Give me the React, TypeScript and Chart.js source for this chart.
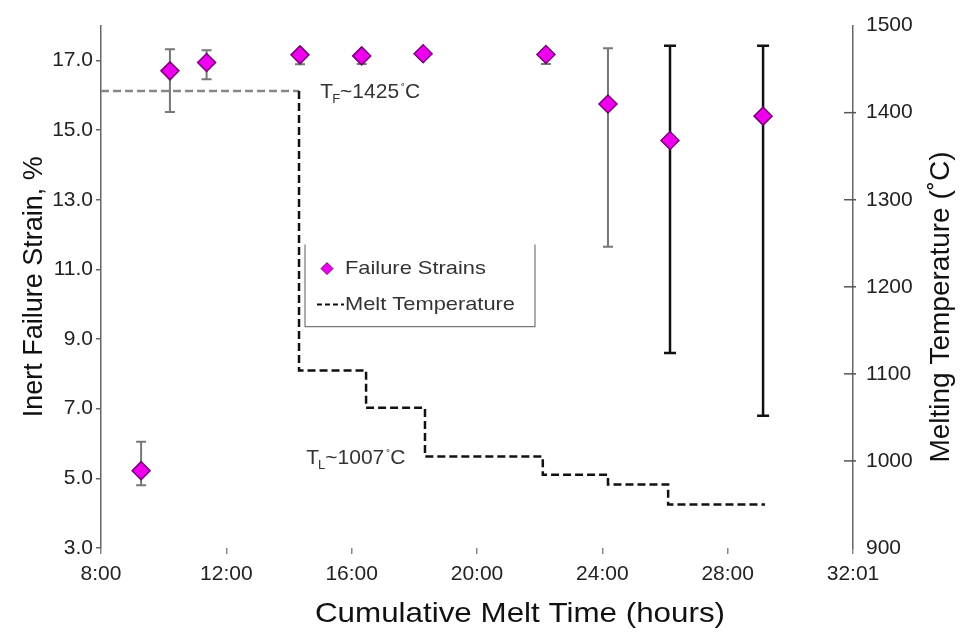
import React, { useEffect, useRef } from 'react';
import { Chart, registerables } from 'chart.js';

Chart.register(...registerables);

// ---- data ----
const meltHours = [9.28, 10.2, 11.37, 14.35, 16.32, 18.28, 22.2, 24.18, 26.16, 29.13];
const failureStrain = [5.22, 16.7, 16.94, 17.16, 17.13, 17.19, 17.17, 15.75, 14.7, 15.4];
const strainLow = [4.8, 15.52, 16.46, 16.89, 16.9, 17.1, 16.9, 11.65, 8.6, 6.8];
const strainHigh = [6.05, 17.32, 17.29, 17.25, 17.25, 17.28, 17.3, 17.35, 17.42, 17.42];

const stepHours = [8, 14.32, 16.46, 18.34, 22.1, 24.18, 26.1, 29.19];
const meltTemp = [1425, 1425, 1104, 1061, 1005, 984, 973, 950];

const xTickValues = [8, 12, 16, 20, 24, 28, 32];
const xTickLabels = ['8:00', '12:00', '16:00', '20:00', '24:00', '28:00', '32:01'];
const strainTicks = [3, 5, 7, 9, 11, 13, 15, 17];
const tempTicks = [900, 1000, 1100, 1200, 1300, 1400, 1500];

const annoSubs = ['F', 'L'];
const annoValues = ['~1425', '~1007'];
const annoHours = [15.0, 14.55];
const annoTemps = [1425, 1005];

const FONT = '"Liberation Sans", Arial, Helvetica, sans-serif';

function drawText(
  ctx: CanvasRenderingContext2D,
  text: string,
  x: number,
  y: number,
  size: number,
  sx: number,
  align: CanvasTextAlign,
  color: string,
  rotate = 0
) {
  ctx.save();
  ctx.translate(x, y);
  if (rotate) ctx.rotate(rotate);
  ctx.scale(sx, 1);
  ctx.font = `${size}px ${FONT}`;
  ctx.fillStyle = color;
  ctx.textAlign = align;
  ctx.textBaseline = 'middle';
  ctx.fillText(text, 0, 0);
  ctx.restore();
}

const errorBarPlugin = {
  id: 'errorBars',
  beforeDatasetsDraw(chart: any) {
    const { ctx, scales } = chart;
    const xs = scales.x;
    const ys = scales.y;
    ctx.save();
    meltHours.forEach((h, i) => {
      const heavy = i >= 8;
      const px = xs.getPixelForValue(h);
      const pLo = ys.getPixelForValue(strainLow[i]);
      const pHi = ys.getPixelForValue(strainHigh[i]);
      const cap = heavy ? 6 : 5;
      ctx.strokeStyle = heavy ? '#111' : '#777';
      ctx.lineWidth = heavy ? 2.5 : 2;
      ctx.setLineDash([]);
      ctx.beginPath();
      ctx.moveTo(px, pLo);
      ctx.lineTo(px, pHi);
      ctx.moveTo(px - cap, pLo);
      ctx.lineTo(px + cap, pLo);
      ctx.moveTo(px - cap, pHi);
      ctx.lineTo(px + cap, pHi);
      ctx.stroke();
    });
    ctx.restore();
  },
};

const decorPlugin = {
  id: 'decor',
  afterDraw(chart: any) {
    const { ctx, scales, chartArea } = chart;
    const xs = scales.x;
    const y2 = scales.y2;
    ctx.save();

    // inward ticks on the right axis
    ctx.strokeStyle = '#555';
    ctx.lineWidth = 1.5;
    tempTicks.slice(1, -1).forEach((v) => {
      const py = y2.getPixelForValue(v);
      ctx.beginPath();
      ctx.moveTo(chartArea.right - 9, py);
      ctx.lineTo(chartArea.right + 3, py);
      ctx.stroke();
    });

    // annotations T_F / T_L
    annoSubs.forEach((sub, i) => {
      let x = xs.getPixelForValue(annoHours[i]);
      const base = y2.getPixelForValue(annoTemps[i]) + 7;
      ctx.fillStyle = '#333';
      ctx.textAlign = 'left';
      ctx.textBaseline = 'alphabetic';
      ctx.font = `21px ${FONT}`;
      ctx.fillText('T', x, base);
      x += ctx.measureText('T').width - 1;
      ctx.font = `13px ${FONT}`;
      ctx.fillText(sub, x, base + 5);
      x += ctx.measureText(sub).width;
      ctx.font = `21px ${FONT}`;
      ctx.fillText(annoValues[i], x, base);
      x += ctx.measureText(annoValues[i]).width + 2;
      ctx.font = `12px ${FONT}`;
      ctx.fillText('\u02DA', x, base - 5);
      x += ctx.measureText('\u02DA').width;
      ctx.font = `21px ${FONT}`;
      ctx.fillText('C', x, base);
    });

    // legend box
    const L = chartArea.left + 204;
    const T = chartArea.top + 219;
    const R = chartArea.left + 434;
    const B = chartArea.top + 301;
    ctx.strokeStyle = '#777';
    ctx.lineWidth = 1.2;
    ctx.setLineDash([]);
    ctx.beginPath();
    ctx.moveTo(L, T);
    ctx.lineTo(L, B);
    ctx.lineTo(R, B);
    ctx.lineTo(R, T);
    ctx.stroke();

    // legend row 1: diamond
    const dx = L + 22;
    const dy = T + 24;
    ctx.beginPath();
    ctx.moveTo(dx, dy - 6);
    ctx.lineTo(dx + 6, dy);
    ctx.lineTo(dx, dy + 6);
    ctx.lineTo(dx - 6, dy);
    ctx.closePath();
    ctx.fillStyle = '#ee00ee';
    ctx.fill();
    ctx.strokeStyle = '#7a007a';
    ctx.lineWidth = 1;
    ctx.stroke();
    drawText(ctx, 'Failure Strains', L + 40, dy, 19, 1.15, 'left', '#333');

    // legend row 2: dashed line
    const ly = T + 60;
    ctx.strokeStyle = '#111';
    ctx.lineWidth = 2;
    ctx.setLineDash([5, 3]);
    ctx.beginPath();
    ctx.moveTo(L + 12, ly);
    ctx.lineTo(L + 39, ly);
    ctx.stroke();
    ctx.setLineDash([]);
    drawText(ctx, 'Melt Temperature', L + 40, ly, 19, 1.15, 'left', '#333');

    // axis titles
    drawText(ctx, 'Inert Failure Strain, %', 35, (chartArea.top + chartArea.bottom) / 2, 27, 1, 'center', '#111', -Math.PI / 2);
    drawText(ctx, 'Melting Temperature (\u02DAC)', 941, 307, 28, 1, 'center', '#111', -Math.PI / 2);
    drawText(ctx, 'Cumulative Melt Time (hours)', 520, 614, 28, 1.12, 'center', '#111');

    ctx.restore();
  },
};

export default function App() {
  const canvasRef = useRef<HTMLCanvasElement | null>(null);

  useEffect(() => {
    const canvas = canvasRef.current;
    if (!canvas) return;
    const tickFont = { family: FONT, size: 21 };
    const chart = new Chart(canvas, {
      type: 'scatter',
      data: {
        datasets: [
          {
            label: 'Failure Strains',
            data: meltHours.map((h, i) => ({ x: h, y: failureStrain[i] })),
            yAxisID: 'y',
            pointStyle: 'rectRot',
            pointRadius: 9,
            pointBackgroundColor: '#ee00ee',
            pointBorderColor: '#7a007a',
            pointBorderWidth: 1.5,
            showLine: false,
          },
          {
            label: 'Melt Temperature',
            data: stepHours.map((h, i) => ({ x: h, y: meltTemp[i] })),
            yAxisID: 'y2',
            showLine: true,
            stepped: 'after',
            borderColor: '#111',
            borderWidth: 2.5,
            borderDash: [8, 4],
            pointRadius: 0,
            fill: false,
            segment: {
              borderColor: (c: any) => (c.p0DataIndex === 0 ? '#888' : '#111'),
            },
          },
        ],
      } as any,
      options: {
        responsive: false,
        animation: false,
        events: [],
        layout: { padding: { top: 21, left: 0, right: 0, bottom: 0 } },
        plugins: { legend: { display: false }, tooltip: { enabled: false } },
        scales: {
          x: {
            type: 'linear',
            min: 8,
            max: 32,
            afterBuildTicks: (s: any) => {
              s.ticks = xTickValues.map((v) => ({ value: v }));
            },
            afterFit: (s: any) => {
              s.height = 88;
            },
            grid: { drawOnChartArea: false, drawTicks: true, tickLength: 6, color: '#888', lineWidth: 1.5 },
            border: { display: false },
            ticks: {
              padding: 8,
              font: tickFont,
              color: '#222',
              maxRotation: 0,
              autoSkip: false,
              callback: (_v: any, i: number) => xTickLabels[i] ?? '',
            },
          },
          y: {
            position: 'left',
            min: 3,
            max: 18,
            afterBuildTicks: (s: any) => {
              s.ticks = strainTicks.map((v) => ({ value: v }));
            },
            afterFit: (s: any) => {
              s.width = 101;
            },
            grid: { drawOnChartArea: false, tickLength: 5, color: '#666', lineWidth: 1.5 },
            border: { display: true, color: '#666', width: 1.5 },
            ticks: {
              padding: 3,
              font: tickFont,
              color: '#222',
              callback: (v: any) => Number(v).toFixed(1),
            },
          },
          y2: {
            position: 'right',
            min: 900,
            max: 1500,
            afterBuildTicks: (s: any) => {
              s.ticks = tempTicks.map((v) => ({ value: v }));
            },
            afterFit: (s: any) => {
              s.width = 116;
            },
            grid: { drawOnChartArea: false, drawTicks: false },
            border: { display: true, color: '#666', width: 1.5 },
            ticks: {
              padding: 13,
              font: tickFont,
              color: '#222',
              callback: (v: any) => String(v),
            },
          },
        },
      } as any,
      plugins: [errorBarPlugin, decorPlugin],
    });
    return () => chart.destroy();
  }, []);

  return (
    <div style={{ position: 'fixed', left: 0, top: 0, width: 969, height: 636, background: '#fff' }}>
      <canvas ref={canvasRef} width={969} height={636} style={{ display: 'block', width: 969, height: 636 }} />
    </div>
  );
}
